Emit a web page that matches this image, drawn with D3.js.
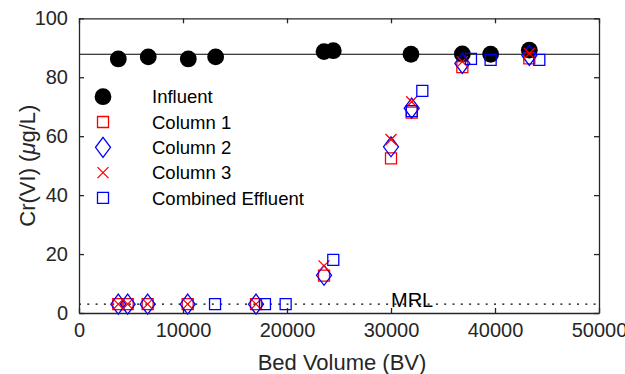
<!DOCTYPE html>
<html>
<head>
<meta charset="utf-8">
<script src="https://cdn.jsdelivr.net/npm/d3@7"></script>
<style>
  body { margin: 0; background: #fff; }
  text { font-family: "Liberation Sans", Arial, Helvetica, sans-serif; fill: #262626; }
</style>
</head>
<body>
<div id="chart"></div>
<script>
// data
var bvInfluent = [3780, 6660, 10510, 13140, 23560, 24450, 31920, 36860, 39580, 43300];
var crInfluent = [86.2, 86.9, 86.2, 86.9, 88.7, 89.0, 87.8, 87.9, 87.8, 89.2];

var bvColumns = [3780, 4680, 6600, 10450, 17020, 23560, 30000, 31990, 36860, 43300];
var crColumn1 = [3, 3, 3, 3, 3, 12.7, 52.5, 68.0, 83.4, 86.4];
var crColumn2 = [3, 3, 3, 3, 3, 12.8, 56.4, 69.5, 84.7, 87.4];
var crColumn3 = [3, 3, 3, 3, 3, 16.0, 58.9, 71.7, 85.3, 88.1];

var bvCombined = [13080, 17880, 19870, 24450, 32000, 33010, 37690, 39580, 44260];
var crCombined = [3, 3, 3, 18.0, 68.5, 75.4, 86.2, 85.9, 85.9];

var influentLevel = 87.8; // horizontal line
var mrlLevel = 3;         // dotted MRL line

var xTicks = [0, 10000, 20000, 30000, 40000, 50000];
var yTicks = [0, 20, 40, 60, 80, 100];

var legendNames = ["Influent", "Column 1", "Column 2", "Column 3", "Combined Effluent"];

var W = 625, H = 374;
var axisColor = "#262626";

var x = d3.scaleLinear().domain([0, 50000]).range([79, 599]);
var y = d3.scaleLinear().domain([0, 100]).range([313, 18.3]);

var svg = d3.select("#chart").append("svg")
    .attr("width", W)
    .attr("height", H);

svg.append("rect").attr("width", W).attr("height", H).attr("fill", "#fff");

// marker shapes
function squarePath(s) { var h = s / 2; return "M" + (-h) + "," + (-h) + "H" + h + "V" + h + "H" + (-h) + "Z"; }
function diamondPath(w, h) { return "M0," + (-h / 2) + "L" + (w / 2) + ",0L0," + (h / 2) + "L" + (-w / 2) + ",0Z"; }
function crossPath(s) { var h = s / 2; return "M" + (-h) + "," + (-h) + "L" + h + "," + h + "M" + (-h) + "," + h + "L" + h + "," + (-h); }

var markers = {
    influent: function(g) { g.append("circle").attr("r", 8.4).attr("fill", "#000"); },
    col1: function(g) { g.append("path").attr("d", squarePath(11)).attr("fill", "none").attr("stroke", "#ff0000").attr("stroke-width", 1.3); },
    col2: function(g) { g.append("path").attr("d", diamondPath(15, 20)).attr("fill", "none").attr("stroke", "#0000ff").attr("stroke-width", 1.3); },
    col3: function(g) { g.append("path").attr("d", crossPath(11)).attr("fill", "none").attr("stroke", "#ff0000").attr("stroke-width", 1.3); },
    comb: function(g) { g.append("path").attr("d", squarePath(11)).attr("fill", "none").attr("stroke", "#0000ff").attr("stroke-width", 1.3); }
};

// reference lines
svg.append("line")
    .attr("x1", x(0)).attr("x2", x(50000))
    .attr("y1", y(influentLevel)).attr("y2", y(influentLevel))
    .attr("stroke", "#000").attr("stroke-width", 1.2);

svg.append("line")
    .attr("x1", x(0)).attr("x2", x(50000))
    .attr("y1", y(mrlLevel)).attr("y2", y(mrlLevel))
    .attr("stroke", "#000").attr("stroke-width", 1.3)
    .attr("stroke-dasharray", "2,6.3");

svg.append("text")
    .attr("x", x(30000))
    .attr("y", y(mrlLevel) + 2.5)
    .style("font-size", "20px")
    .style("fill", "#000")
    .text("MRL");

// scatter series
function drawSeries(xs, ys, mk) {
    svg.append("g").selectAll("g")
        .data(xs.map(function(d, i) { return [d, ys[i]]; }))
        .enter().append("g")
        .attr("transform", function(d) { return "translate(" + x(d[0]) + "," + y(d[1]) + ")"; })
        .each(function() { mk(d3.select(this)); });
}
drawSeries(bvInfluent, crInfluent, markers.influent);
drawSeries(bvColumns, crColumn1, markers.col1);
drawSeries(bvColumns, crColumn2, markers.col2);
drawSeries(bvColumns, crColumn3, markers.col3);
drawSeries(bvCombined, crCombined, markers.comb);

// axes (box with inward ticks)
var fmt = d3.format("d");
var xAxisB = d3.axisBottom(x).tickValues(xTicks).tickFormat(fmt).tickSizeInner(-5).tickSizeOuter(0).tickPadding(10);
var xAxisT = d3.axisTop(x).tickValues(xTicks).tickSizeInner(-5).tickSizeOuter(0).tickFormat("");
var yAxisL = d3.axisLeft(y).tickValues(yTicks).tickFormat(fmt).tickSizeInner(-5).tickSizeOuter(0).tickPadding(11);
var yAxisR = d3.axisRight(y).tickValues(yTicks).tickSizeInner(-5).tickSizeOuter(0).tickFormat("");

function styleAxis(g) {
    g.selectAll("path").attr("stroke", axisColor).attr("stroke-width", 1.3);
    g.selectAll("line").attr("stroke", axisColor).attr("stroke-width", 1.3);
    g.selectAll("text").style("font-size", "20px").attr("fill", axisColor).style("font-family", "Liberation Sans, Arial, sans-serif");
}

svg.append("g").attr("transform", "translate(0," + y(0) + ")").call(xAxisB).call(styleAxis);
svg.append("g").attr("transform", "translate(0," + y(100) + ")").call(xAxisT).call(styleAxis);
svg.append("g").attr("transform", "translate(" + x(0) + ",0)").call(yAxisL).call(styleAxis);
svg.append("g").attr("transform", "translate(" + x(50000) + ",0)").call(yAxisR).call(styleAxis);

// axis labels
svg.append("text")
    .attr("x", (x(0) + x(50000)) / 2 + 3)
    .attr("y", 370)
    .attr("text-anchor", "middle")
    .style("font-size", "22px")
    .text("Bed Volume (BV)");

var yl = svg.append("text")
    .attr("transform", "translate(35," + (y(0) + y(100)) / 2 + ")rotate(-90)")
    .attr("text-anchor", "middle")
    .style("font-size", "22px");
yl.append("tspan").text("Cr(VI) (");
yl.append("tspan").style("font-style", "italic").text("\u03bc");
yl.append("tspan").text("g/L)");

// legend
var legendKeys = ["influent", "col1", "col2", "col3", "comb"];
var lg = svg.append("g").selectAll("g")
    .data(legendNames)
    .enter().append("g")
    .attr("transform", function(d, i) { return "translate(103," + (96.7 + i * 25.3) + ")"; });
lg.each(function(d, i) { markers[legendKeys[i]](d3.select(this)); });
lg.append("text")
    .attr("x", 49)
    .attr("dy", "0.36em")
    .style("font-size", "18.5px")
    .style("fill", "#000")
    .text(function(d) { return d; });
</script>
</body>
</html>
